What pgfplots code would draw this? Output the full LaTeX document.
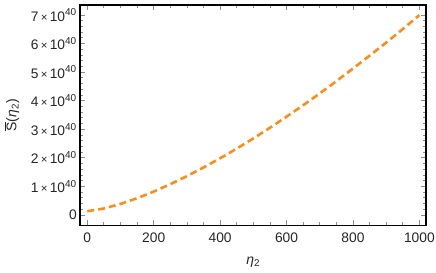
\documentclass[border=0pt]{standalone}
\usepackage{fontspec}
\setmainfont{Liberation Sans}
\usepackage{pgfplots}
\pgfplotsset{compat=1.18}
\definecolor{curve}{RGB}{255,140,20}
\newcommand{\sci}[1]{#1\,{\fontsize{11.5}{13}\selectfont ×}\,10\textsuperscript{\fontsize{10}{12}\selectfont 40}}
\begin{document}
\begin{tikzpicture}
\begin{axis}[
  scale only axis, width=345.7pt, height=220.5pt,
  xmin=-21, xmax=1020, ymin=-0.37, ymax=7.35,
  axis line style={line width=1.6pt, black},
  tick align=inside,
  xtick={0,200,400,600,800,1000},
  xticklabels={0,200,400,600,800,1000},
  minor x tick num=3,
  ytick={0,1,2,3,4,5,6,7},
  yticklabels={0,\sci{1},\sci{2},\sci{3},\sci{4},\sci{5},\sci{6},\sci{7}},
  minor y tick num=4,
  major tick length=5pt, minor tick length=3pt,
  every tick/.style={black!45, line width=0.8pt},
  tick label style={font=\fontsize{13.8}{15}\selectfont, text=black!85},
  xticklabel style={yshift=-4pt},
  /pgf/number format/assume math mode=true,
  xlabel={\textit{η}\textsubscript{2}},
  ylabel={$\overline{\mbox{S}}$(\textit{η}\textsubscript{2})},
  label style={font=\fontsize{14}{15}\selectfont, text=black!85},
  xlabel style={at={(axis description cs:0.5,-0.1655)}, anchor=center},
  ylabel style={at={(axis description cs:-0.1976,0.5)}, anchor=center},
]
\addplot[curve, line width=2.6pt, dash pattern=on 7pt off 4pt] coordinates {
(0,0.13) (50,0.225) (100,0.385) (150,0.585) (200,0.817) (250,1.075) (300,1.358)
(350,1.66) (400,1.983) (450,2.321) (500,2.678) (550,3.05) (600,3.439)
(650,3.839) (700,4.253) (750,4.682) (800,5.125) (850,5.574) (900,6.033)
(950,6.506) (1000,6.996)
};
\end{axis}
\pgfresetboundingbox
\path ([shift={(-80.3pt,-47.5pt)}]current axis.south west) rectangle ([shift={(10pt,5pt)}]current axis.north east);
\end{tikzpicture}
\end{document}
